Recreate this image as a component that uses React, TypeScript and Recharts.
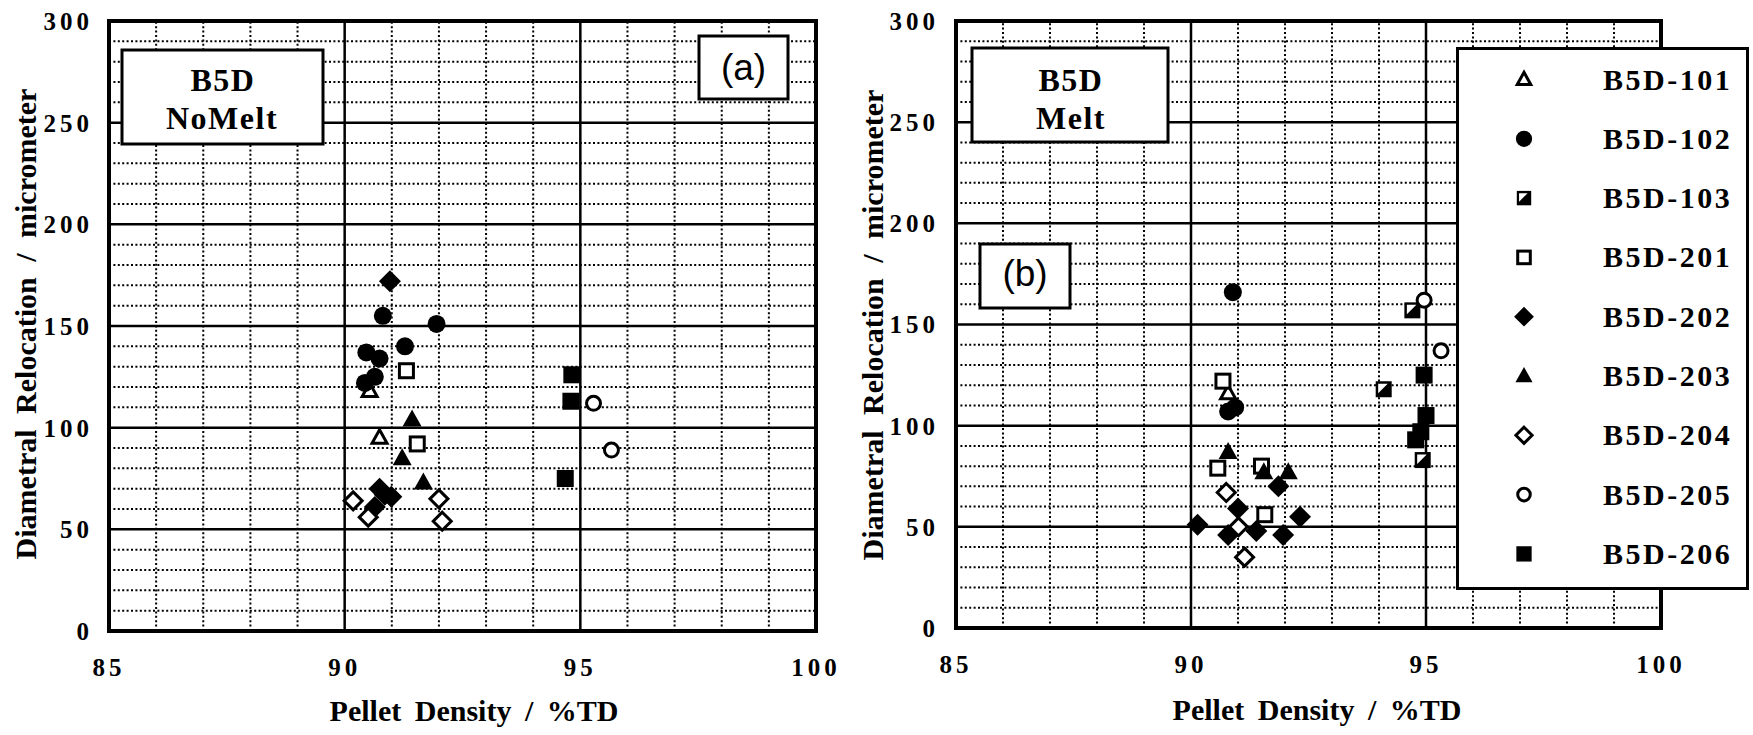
import React from 'react';
import {
  ScatterChart,
  Scatter,
  XAxis,
  YAxis,
  ReferenceLine,
  ReferenceArea,
  Legend,
} from 'recharts';

type Pt = { x: number; y: number };

// axis ticks and grid positions
const xTicks = [85, 90, 95, 100];
const yTicks = [0, 50, 100, 150, 200, 250, 300];
const xMinor = [86, 87, 88, 89, 91, 92, 93, 94, 96, 97, 98, 99];
const xMajor = [90, 95];
const yMinor = [10, 20, 30, 40, 60, 70, 80, 90, 110, 120, 130, 140, 160, 170, 180, 190, 210, 220, 230, 240, 260, 270, 280, 290];
const yMajor = [50, 100, 150, 200, 250];

const seriesNames = ['B5D-101', 'B5D-102', 'B5D-103', 'B5D-201', 'B5D-202', 'B5D-203', 'B5D-204', 'B5D-205', 'B5D-206'];
const markerKinds = ['openTriangle', 'filledCircle', 'halfSquare', 'openSquare', 'filledDiamond', 'filledTriangle', 'openDiamond', 'openCircle', 'filledSquare'];

// (a) NoMelt
const noMelt101: Pt[] = [{ x: 90.53, y: 118 }, { x: 90.74, y: 95 }];
const noMelt102: Pt[] = [
  { x: 90.81, y: 155 }, { x: 91.95, y: 151 }, { x: 91.28, y: 140 }, { x: 90.46, y: 137 },
  { x: 90.74, y: 134 }, { x: 90.43, y: 122 }, { x: 90.64, y: 125 },
];
const noMelt103: Pt[] = [];
const noMelt201: Pt[] = [{ x: 91.31, y: 128 }, { x: 91.54, y: 92 }];
const noMelt202: Pt[] = [{ x: 90.96, y: 172 }, { x: 90.74, y: 70 }, { x: 90.99, y: 66 }, { x: 90.64, y: 61 }, { x: 90.85, y: 67 }];
const noMelt203: Pt[] = [{ x: 91.43, y: 104 }, { x: 91.22, y: 85 }, { x: 91.67, y: 73 }];
const noMelt204: Pt[] = [{ x: 90.18, y: 64 }, { x: 90.5, y: 56 }, { x: 92.0, y: 65 }, { x: 92.07, y: 54 }];
const noMelt205: Pt[] = [{ x: 95.28, y: 112 }, { x: 95.66, y: 89 }];
const noMelt206: Pt[] = [{ x: 94.82, y: 126 }, { x: 94.8, y: 113 }, { x: 94.68, y: 75 }];

// (b) Melt
const melt101: Pt[] = [{ x: 90.79, y: 116 }];
const melt102: Pt[] = [{ x: 90.89, y: 166 }, { x: 90.79, y: 107 }, { x: 90.94, y: 109 }];
const melt103: Pt[] = [{ x: 94.71, y: 157 }, { x: 94.1, y: 118 }, { x: 94.93, y: 83 }];
const melt201: Pt[] = [{ x: 90.68, y: 122 }, { x: 90.57, y: 79 }, { x: 91.5, y: 80 }, { x: 91.57, y: 56 }];
const melt202: Pt[] = [
  { x: 91.86, y: 70 }, { x: 91.0, y: 59 }, { x: 90.14, y: 51 }, { x: 90.79, y: 46 },
  { x: 91.39, y: 48 }, { x: 91.96, y: 46 }, { x: 92.32, y: 55 },
];
const melt203: Pt[] = [{ x: 90.79, y: 87 }, { x: 91.55, y: 77 }, { x: 92.07, y: 77 }];
const melt204: Pt[] = [{ x: 90.75, y: 67 }, { x: 91.01, y: 50 }, { x: 91.14, y: 35 }];
const melt205: Pt[] = [{ x: 94.96, y: 162 }, { x: 95.32, y: 137 }];
const melt206: Pt[] = [{ x: 94.96, y: 125 }, { x: 95.0, y: 105 }, { x: 94.89, y: 97 }, { x: 94.78, y: 93 }];

const noMeltSets = [noMelt101, noMelt102, noMelt103, noMelt201, noMelt202, noMelt203, noMelt204, noMelt205, noMelt206];
const meltSets = [melt101, melt102, melt103, melt201, melt202, melt203, melt204, melt205, melt206];

const SERIF = '"Liberation Serif", "Times New Roman", serif';
const SANS = '"Liberation Sans", Arial, sans-serif';

const Marker = ({ kind, cx, cy, k = 1 }: { kind: string; cx: number; cy: number; k?: number }) => {
  const s = (v: number) => v * k;
  switch (kind) {
    case 'openTriangle':
      return (
        <polygon
          points={`${cx},${cy - s(8)} ${cx + s(7.5)},${cy + s(5.5)} ${cx - s(7.5)},${cy + s(5.5)}`}
          fill="#fff" stroke="#000" strokeWidth={3}
        />
      );
    case 'filledTriangle':
      return (
        <polygon
          points={`${cx},${cy - s(10)} ${cx + s(9.5)},${cy + s(7)} ${cx - s(9.5)},${cy + s(7)}`}
          fill="#000"
        />
      );
    case 'filledCircle':
      return <circle cx={cx} cy={cy} r={s(9)} fill="#000" />;
    case 'openCircle':
      return <circle cx={cx} cy={cy} r={s(7)} fill="#fff" stroke="#000" strokeWidth={3} />;
    case 'openSquare':
      return <rect x={cx - s(7)} y={cy - s(7)} width={s(14)} height={s(14)} fill="#fff" stroke="#000" strokeWidth={3} />;
    case 'filledSquare':
      return <rect x={cx - s(8.5)} y={cy - s(8.5)} width={s(17)} height={s(17)} fill="#000" />;
    case 'halfSquare':
      return (
        <g>
          <rect x={cx - s(8)} y={cy - s(8)} width={s(16)} height={s(16)} fill="#000" />
          <polygon
            points={`${cx - s(5.5)},${cy - s(5.5)} ${cx + s(4)},${cy - s(5.5)} ${cx - s(5.5)},${cy + s(4)}`}
            fill="#fff"
          />
        </g>
      );
    case 'filledDiamond':
      return (
        <polygon
          points={`${cx},${cy - s(11)} ${cx + s(11)},${cy} ${cx},${cy + s(11)} ${cx - s(11)},${cy}`}
          fill="#000"
        />
      );
    case 'openDiamond':
      return (
        <polygon
          points={`${cx},${cy - s(9)} ${cx + s(9)},${cy} ${cx},${cy + s(9)} ${cx - s(9)},${cy}`}
          fill="#fff" stroke="#000" strokeWidth={3}
        />
      );
    default:
      return null;
  }
};

const tickStyle = { fontSize: 25, fontWeight: 'bold', fontFamily: SERIF, fill: '#000', letterSpacing: 4 };

const LegendBox = (props: any) => {
  const items = (props.payload ?? []).map((p: any) => p.value as string);
  return (
    <svg width={293} height={543} style={{ display: 'block' }}>
      <rect x={1.5} y={1.5} width={290} height={540} fill="#fff" stroke="#000" strokeWidth={3} />
      {items.map((name: string) => {
        const i = seriesNames.indexOf(name);
        const cy = 32.5 + i * 59.3;
        return (
          <g key={name}>
            <Marker kind={markerKinds[i]} cx={68} cy={cy} k={0.9} />
            <text x={147} y={cy + 10} fontFamily={SERIF} fontWeight="bold" fontSize={30} letterSpacing={2.5} fill="#000">
              {name}
            </text>
          </g>
        );
      })}
    </svg>
  );
};

interface PanelProps {
  sets: Pt[][];
  width: number;
  yAxisWidth: number;
  xAxisHeight: number;
  right: number;
  yTickMargin: number;
  showLegend?: boolean;
}

const Panel: React.FC<PanelProps> = ({ sets, width, yAxisWidth, xAxisHeight, right, yTickMargin, showLegend }) => (
  <ScatterChart width={width} height={735} margin={{ top: 21, right, bottom: 0, left: 0 }}>
    <XAxis
      type="number"
      dataKey="x"
      domain={[85, 100]}
      ticks={xTicks}
      interval={0}
      height={xAxisHeight}
      axisLine={false}
      tickLine={false}
      tickSize={0}
      tickMargin={27}
      tick={tickStyle}
    />
    <YAxis
      type="number"
      dataKey="y"
      domain={[0, 300]}
      ticks={yTicks}
      interval={0}
      width={yAxisWidth}
      axisLine={false}
      tickLine={false}
      tickSize={0}
      tickMargin={yTickMargin}
      tick={tickStyle}
    />
    {xMinor.map((v) => (
      <ReferenceLine key={`xm${v}`} x={v} stroke="#000" strokeWidth={2} strokeDasharray="2 2.4" />
    ))}
    {yMinor.map((v) => (
      <ReferenceLine key={`ym${v}`} y={v} stroke="#000" strokeWidth={2} strokeDasharray="2 2.4" />
    ))}
    {xMajor.map((v) => (
      <ReferenceLine key={`xM${v}`} x={v} stroke="#000" strokeWidth={2.5} />
    ))}
    {yMajor.map((v) => (
      <ReferenceLine key={`yM${v}`} y={v} stroke="#000" strokeWidth={2.5} />
    ))}
    <ReferenceArea x1={85} x2={100} y1={0} y2={300} fill="none" fillOpacity={0} stroke="#000" strokeWidth={4} />
    {sets.map((data, i) => (
      <Scatter
        key={seriesNames[i]}
        name={seriesNames[i]}
        data={data}
        fill="#000"
        isAnimationActive={false}
        shape={(p: any) => <Marker kind={markerKinds[i]} cx={p.cx} cy={p.cy} />}
      />
    ))}
    {showLegend && (
      <Legend
        layout="vertical"
        align="center"
        verticalAlign="middle"
        content={LegendBox}
        wrapperStyle={{ position: 'absolute', left: 596, top: 47, width: 293, height: 543 }}
      />
    )}
  </ScatterChart>
);

const titleStyle = { fontFamily: SERIF, fontWeight: 'bold' as const, fontSize: 30, fill: '#000' };
const boxText = { fontFamily: SERIF, fontWeight: 'bold' as const, fontSize: 32, letterSpacing: 1.5, fill: '#000' };

export default function App() {
  return (
    <div style={{ position: 'absolute', left: 0, top: 0, width: 1753, height: 735, background: '#fff', overflow: 'hidden' }}>
      <div style={{ position: 'absolute', left: 0, top: 0 }}>
        <Panel sets={noMeltSets} width={860} yAxisWidth={109} xAxisHeight={104} right={44} yTickMargin={16} />
      </div>
      <div style={{ position: 'absolute', left: 860, top: 0 }}>
        <Panel sets={meltSets} width={893} yAxisWidth={96} xAxisHeight={107} right={92} yTickMargin={17} showLegend />
      </div>
      <svg width={1753} height={735} style={{ position: 'absolute', left: 0, top: 0, pointerEvents: 'none' }}>
        {/* axis titles */}
        <text x={474} y={721} textAnchor="middle" wordSpacing={6} {...titleStyle}>Pellet Density / %TD</text>
        <text x={1317} y={720} textAnchor="middle" wordSpacing={6} {...titleStyle}>Pellet Density / %TD</text>
        <text transform="translate(36,324) rotate(-90)" textAnchor="middle" wordSpacing={8} {...titleStyle}>
          Diametral Relocation / micrometer
        </text>
        <text transform="translate(883,325) rotate(-90)" textAnchor="middle" wordSpacing={8} {...titleStyle}>
          Diametral Relocation / micrometer
        </text>

        {/* panel (a) labels */}
        <rect x={122} y={50} width={201} height={94} fill="#fff" stroke="#000" strokeWidth={3} />
        <text x={223} y={91} textAnchor="middle" {...boxText}>B5D</text>
        <text x={222} y={129} textAnchor="middle" {...boxText}>NoMelt</text>
        <rect x={699} y={36} width={89} height={63} fill="#fff" stroke="#000" strokeWidth={3} />
        <text x={743.5} y={80} textAnchor="middle" fontFamily={SANS} fontSize={37}>(a)</text>

        {/* panel (b) labels */}
        <rect x={972} y={48} width={196} height={94} fill="#fff" stroke="#000" strokeWidth={3} />
        <text x={1071} y={91} textAnchor="middle" {...boxText}>B5D</text>
        <text x={1071} y={129} textAnchor="middle" {...boxText}>Melt</text>
        <rect x={980} y={244} width={90} height={64} fill="#fff" stroke="#000" strokeWidth={3} />
        <text x={1025} y={286} textAnchor="middle" fontFamily={SANS} fontSize={37}>(b)</text>
      </svg>
    </div>
  );
}
